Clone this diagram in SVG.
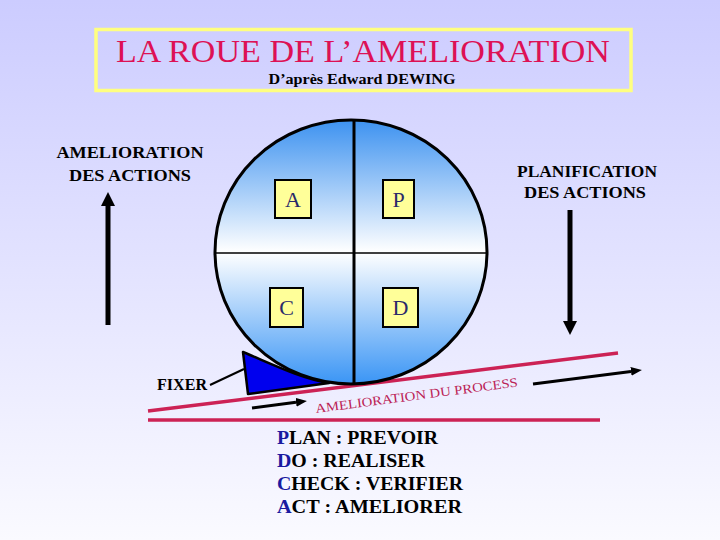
<svg xmlns="http://www.w3.org/2000/svg" width="720" height="540" viewBox="0 0 720 540">
  <defs>
    <linearGradient id="bg" x1="0" y1="0" x2="0" y2="1">
      <stop offset="0" stop-color="#ccccff"/>
      <stop offset="1" stop-color="#fafaff"/>
    </linearGradient>
    <linearGradient id="wheelFill" x1="0" y1="0" x2="0" y2="1">
      <stop offset="0" stop-color="#3d92f0"/>
      <stop offset="0.5" stop-color="#ffffff"/>
      <stop offset="1" stop-color="#3a95f5"/>
    </linearGradient>
    <marker id="bigHead" markerUnits="userSpaceOnUse" markerWidth="14" markerHeight="14" refX="0" refY="7" orient="auto">
      <path d="M0,0 L14,7 L0,14 Z" fill="#000"/>
    </marker>
    <marker id="smallHead" markerUnits="userSpaceOnUse" markerWidth="11" markerHeight="9" refX="0" refY="4.5" orient="auto">
      <path d="M0,0 L11,4.5 L0,9 Z" fill="#000"/>
    </marker>
    <style>
      text { font-family: 'Liberation Serif', 'Times New Roman', 'DejaVu Serif', serif; }
      .lbl { font-weight: bold; fill: #000; }
      .letterBox { fill: #ffff99; stroke: #000; stroke-width: 2; }
      .letter { font-size: 22px; fill: #2a2a6a; text-anchor: middle; }
      .redLine { stroke: #cc2255; stroke-width: 3.5; fill: none; }
      .list { font-weight: bold; font-size: 19.5px; fill: #000; }
      .first { fill: #1a1aa0; }
    </style>
  </defs>

  <rect x="0" y="0" width="720" height="540" fill="url(#bg)"/>

  <g id="title">
    <rect x="96" y="29.5" width="535" height="61" fill="none" stroke="#ffff80" stroke-width="3.5"/>
    <text x="363" y="62" font-size="31" fill="#dd1155" text-anchor="middle" textLength="494" lengthAdjust="spacingAndGlyphs">LA ROUE DE L’AMELIORATION</text>
    <text class="lbl" x="362" y="84" font-size="14" text-anchor="middle" textLength="187" lengthAdjust="spacingAndGlyphs">D’après Edward DEWING</text>
  </g>

  <g id="label-amelioration-actions">
    <text class="lbl" font-size="17" x="130" y="158" text-anchor="middle" textLength="147" lengthAdjust="spacingAndGlyphs">AMELIORATION</text>
    <text class="lbl" font-size="17" x="130" y="181" text-anchor="middle" textLength="122" lengthAdjust="spacingAndGlyphs">DES ACTIONS</text>
  </g>

  <g id="label-planification-actions">
    <text class="lbl" font-size="17" x="587" y="177" text-anchor="middle" textLength="140" lengthAdjust="spacingAndGlyphs">PLANIFICATION</text>
    <text class="lbl" font-size="17" x="585" y="198" text-anchor="middle" textLength="122" lengthAdjust="spacingAndGlyphs">DES ACTIONS</text>
  </g>

  <g id="ground">
    <line class="redLine" x1="148" y1="411" x2="618" y2="353"/>
    <line class="redLine" x1="148" y1="420" x2="600" y2="420"/>
    <text x="0" y="0" font-size="13" fill="#bb2255" transform="translate(316,413) rotate(-7.5)" textLength="204" lengthAdjust="spacingAndGlyphs">AMELIORATION DU PROCESS</text>
  </g>

  <g id="wheel">
    <ellipse cx="351" cy="252" rx="136" ry="132" fill="url(#wheelFill)" stroke="#000" stroke-width="3"/>
    <line x1="215" y1="253" x2="487" y2="253" stroke="#000" stroke-width="1.5"/>
    <line x1="354" y1="120" x2="354" y2="384" stroke="#000" stroke-width="3"/>
  </g>

  <g id="node-A">
    <rect class="letterBox" x="275" y="180" width="36" height="38"/>
    <text class="letter" x="293" y="207">A</text>
  </g>
  <g id="node-P">
    <rect class="letterBox" x="383" y="180" width="31" height="38"/>
    <text class="letter" x="398.5" y="207">P</text>
  </g>
  <g id="node-C">
    <rect class="letterBox" x="270" y="288" width="33" height="39"/>
    <text class="letter" x="286.5" y="315">C</text>
  </g>
  <g id="node-D">
    <rect class="letterBox" x="383" y="288" width="35" height="39"/>
    <text class="letter" x="400.5" y="315">D</text>
  </g>

  <g id="wedge">
    <path d="M243,352 C272,364 300,378 329,383 L248,394 Z" fill="#0000ee" stroke="#000" stroke-width="2.5" stroke-linejoin="round"/>
  </g>

  <g id="label-fixer">
    <text class="lbl" font-size="16" x="157" y="390" textLength="50" lengthAdjust="spacingAndGlyphs">FIXER</text>
  </g>

  <g id="connectors" stroke="#000" fill="none">
    <line x1="108" y1="325" x2="108" y2="206" stroke-width="5" marker-end="url(#bigHead)"/>
    <line x1="570" y1="210" x2="570" y2="321" stroke-width="5" marker-end="url(#bigHead)"/>
    <line x1="210" y1="385" x2="244" y2="369" stroke-width="2"/>
    <line x1="252" y1="408" x2="296" y2="402.3" stroke-width="3" marker-end="url(#smallHead)"/>
    <line x1="533" y1="384" x2="631" y2="371.4" stroke-width="3" marker-end="url(#smallHead)"/>
  </g>

  <g id="pdca-list">
    <text class="list" x="277" y="444" textLength="161" lengthAdjust="spacingAndGlyphs"><tspan class="first">P</tspan>LAN : PREVOIR</text>
    <text class="list" x="277" y="467" textLength="148" lengthAdjust="spacingAndGlyphs"><tspan class="first">D</tspan>O : REALISER</text>
    <text class="list" x="277" y="490" textLength="186" lengthAdjust="spacingAndGlyphs"><tspan class="first">C</tspan>HECK : VERIFIER</text>
    <text class="list" x="277" y="513" textLength="185" lengthAdjust="spacingAndGlyphs"><tspan class="first">A</tspan>CT : AMELIORER</text>
  </g>
</svg>
